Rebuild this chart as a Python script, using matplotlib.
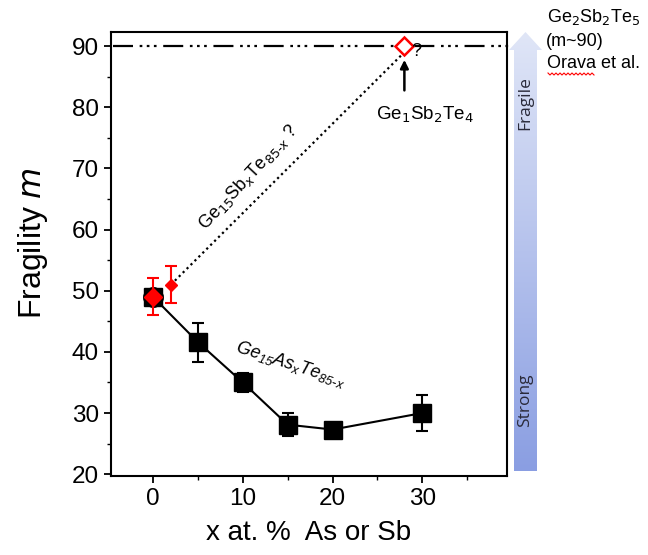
import matplotlib

matplotlib.use("Agg")
import matplotlib.pyplot as plt
import numpy as np
from matplotlib.ticker import MultipleLocator

plt.rcParams["font.family"] = ["Liberation Sans", "DejaVu Sans"]

# Ge15AsxTe85-x (black)
as_x = [0, 5, 10, 15, 20, 30]
as_m = [49, 41.6, 35, 28.1, 27.3, 30]
as_err = [0, 3.2, 1.5, 1.9, 0, 3.0]

# Ge15SbxTe85-x (red)
sb_x = [0, 2]
sb_m = [49, 51]
sb_err = [3.0, 3.0]
gst_x = 28
gst_m = 90

ref_m = 90
xticks = [0, 10, 20, 30]
yticks = [20, 30, 40, 50, 60, 70, 80, 90]

fig = plt.figure(figsize=(6.48, 5.55), dpi=100)
ax = fig.add_axes([0.171, 0.1423, 0.611, 0.80])

ax.set_xlim(-4.7, 39.4)
ax.set_ylim(19.7, 92.3)

# reference level Ge2Sb2Te5
ax.plot([-4.5, 43.0], [ref_m, ref_m], color="black", lw=1.6,
        dashes=(9, 3, 1.2, 2, 1.2, 2, 1.2, 3), clip_on=False, zorder=2)

# speculative Sb line
ax.plot([sb_x[1], gst_x], [sb_m[1], gst_m - 1], color="black", lw=1.6,
        dashes=(1, 1.5), zorder=2)

ax.errorbar(as_x, as_m, yerr=as_err, color="black", lw=1.5, marker="s",
            markersize=13, capsize=4, elinewidth=1.5, capthick=1.5, zorder=3)
ax.plot(as_x[0], as_m[0], marker="o", color="black", markersize=14, ls="none", zorder=3)
ax.errorbar(sb_x, sb_m, yerr=sb_err, color="red", ls="none", marker="D",
            markersize=0, capsize=4, elinewidth=1.5, capthick=1.5, zorder=4)
ax.plot(sb_x[0], sb_m[0], marker="D", color="red", markersize=9, ls="none", zorder=5)
ax.plot(sb_x[1], sb_m[1], marker="D", color="red", markersize=6, ls="none", zorder=5)
ax.plot(gst_x, gst_m, marker="D", mfc="white", mec="red", mew=1.8,
        markersize=9, ls="none", zorder=5)
ax.text(gst_x + 0.8, gst_m - 0.9, "?", fontsize=13, va="center", ha="left", zorder=6)

ax.annotate("", xy=(gst_x, gst_m - 1.8), xytext=(gst_x, 82.3),
            arrowprops=dict(arrowstyle="-|>", color="black", lw=1.8,
                            mutation_scale=12))
ax.text(gst_x + 2.3, 78.7, r"Ge$_1$Sb$_2$Te$_4$", fontsize=13.5,
        ha="center", va="center")

ax.text(10.6, 68.6, r"Ge$_{15}$Sb$_x$Te$_{85\text{-}x}$ ?", fontsize=13,
        rotation=47, ha="center", va="center")
ax.text(15.3, 38.0, r"$\mathregular{Ge_{15}As_xTe_{85\text{-}x}}$", fontsize=13,
        rotation=-18, ha="center", va="center", style="italic")

ax.set_xticks(xticks)
ax.set_yticks(yticks)
ax.xaxis.set_minor_locator(MultipleLocator(5))
ax.yaxis.set_minor_locator(MultipleLocator(5))
ax.tick_params(axis="both", which="major", labelsize=17.5, length=5, width=1.3)
ax.tick_params(axis="both", which="minor", length=3, width=1.0)
ax.tick_params(top=False, right=False)
for spine in ax.spines.values():
    spine.set_linewidth(1.5)

ax.set_xlabel("x at. %  As or Sb", fontsize=20, labelpad=7)
ax.set_ylabel(r"Fragility $m$", fontsize=23, labelpad=16)
ax.yaxis.label.set_y(0.525)

# gradient arrow strong -> fragile
arr = fig.add_axes([0, 0, 1, 1], facecolor="none")
arr.set_xlim(0, 648)
arr.set_ylim(555, 0)
arr.axis("off")
grad = np.linspace(0, 1, 256).reshape(-1, 1)
top_c = np.array([0xe0, 0xe6, 0xf7]) / 255
bot_c = np.array([0x8a, 0x9e, 0xe2]) / 255
img = top_c + grad[..., None] * (bot_c - top_c)
img = img.reshape(256, 1, 3)
shape_x = [514, 514, 509, 525.5, 542, 537, 537]
shape_y = [471, 50, 50, 32, 50, 50, 471]
poly = plt.Polygon(list(zip(shape_x, shape_y)), closed=True, facecolor="none",
                   edgecolor="none")
arr.add_patch(poly)
im = arr.imshow(img, extent=[508, 543, 471, 32], aspect="auto", zorder=1)
im.set_clip_path(poly)
arr.text(525.5, 103, "Fragile", rotation=90, ha="center", va="center",
         fontsize=12.5, color="#2a2a3a", family=["Open Sans", "DejaVu Sans"])
arr.text(525.5, 400, "Strong", rotation=90, ha="center", va="center",
         fontsize=12.5, color="#2a2a3a", family=["Open Sans", "DejaVu Sans"])

arr.text(547, 17, r"Ge$_2$Sb$_2$Te$_5$", fontsize=13, ha="left", va="center")
arr.text(546, 41, "(m~90)", fontsize=13, ha="left", va="center")
arr.text(547, 64, "Orava et al.", fontsize=13, ha="left", va="center")
# spell-check squiggle under "Orava"
wx = np.arange(548, 596, 2.0)
wy = 74 + np.where(np.arange(len(wx)) % 2 == 0, -1.0, 1.0)
arr.plot(wx, wy, color="red", lw=0.8)

fig.savefig("out.png", dpi=100)
